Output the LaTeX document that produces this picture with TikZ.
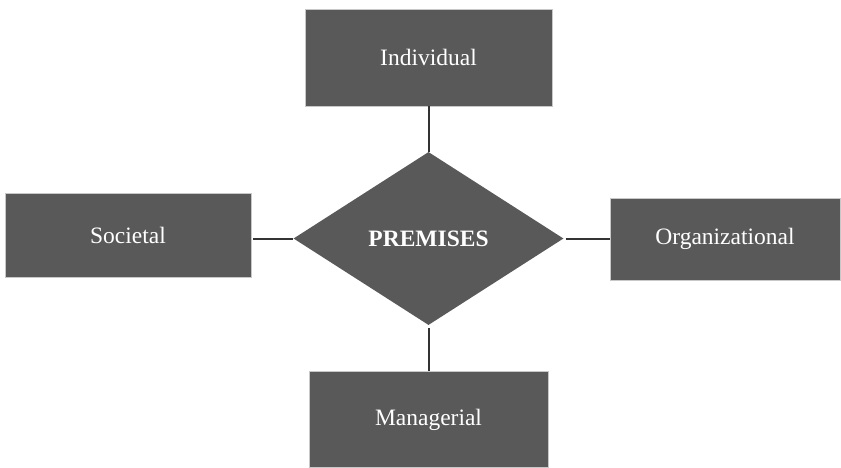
\documentclass[tikz,border=0pt]{standalone}
\usepackage{fontspec}
\setmainfont{Liberation Serif}
\usetikzlibrary{shapes.geometric}
\definecolor{boxgray}{HTML}{595959}
\definecolor{edgegray}{HTML}{C8C8C8}
\definecolor{linegray}{HTML}{333333}
\tikzset{
  boxnode/.style={rectangle, fill=boxgray, draw=edgegray, line width=0.6pt, text=white, inner sep=0pt, font=\fontsize{23.5}{26}\selectfont},
  dianode/.style={diamond, fill=boxgray, text=white, inner sep=0pt, font=\fontsize{23.5}{26}\selectfont\bfseries},
  conn/.style={draw=linegray, line width=2pt}
}
\begin{document}
\begin{tikzpicture}[x=1pt,y=-1pt]
\useasboundingbox (0,0) rectangle (841,467);
\node[boxnode, minimum width=247pt, minimum height=97pt] (ind) at (428.5,57.5) {Individual};
\node[boxnode, minimum width=246pt, minimum height=84pt] (soc) at (128,235) {Societal};
\node[boxnode, minimum width=230pt, minimum height=82pt] (org) at (725,239) {Organizational};
\node[boxnode, minimum width=239pt, minimum height=96pt] (man) at (428.5,419.5) {Managerial};
\node[dianode, minimum width=270pt, minimum height=173pt] (prem) at (428.5,238.5) {PREMISES};
\draw[conn] (ind.south) -- (prem.north);
\draw[conn, shorten <=3pt] (prem.south) -- (man.north);
\draw[conn, shorten <=2pt] (soc.east |- prem.west) -- (prem.west);
\draw[conn, shorten <=2pt] (prem.east) -- (org.west |- prem.east);
\end{tikzpicture}
\end{document}
